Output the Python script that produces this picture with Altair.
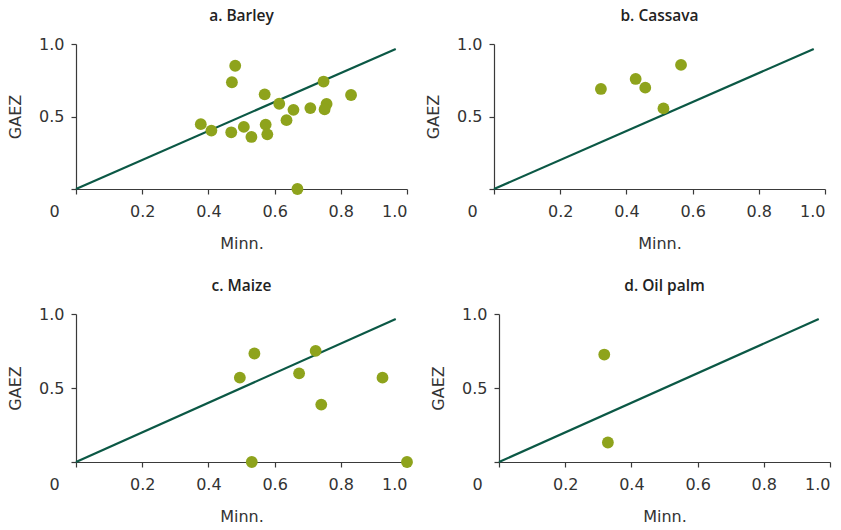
import altair as alt
import pandas as pd

# Minnesota-derived vs GAEZ suitability scores, per crop
barley_minn = [0.377, 0.409, 0.481, 0.471, 0.469, 0.507, 0.530, 0.570, 0.573, 0.578,
               0.614, 0.636, 0.657, 0.669, 0.708, 0.748, 0.757, 0.751, 0.831]
barley_gaez = [0.447, 0.403, 0.850, 0.736, 0.391, 0.428, 0.359, 0.653, 0.444, 0.377,
               0.588, 0.475, 0.546, 0.0, 0.558, 0.741, 0.586, 0.549, 0.648]

cassava_minn = [0.323, 0.428, 0.457, 0.512, 0.565]
cassava_gaez = [0.690, 0.759, 0.699, 0.556, 0.856]

maize_minn = [0.495, 0.539, 0.531, 0.674, 0.724, 0.741, 0.926, 1.0]
maize_gaez = [0.570, 0.733, 0.0, 0.599, 0.751, 0.388, 0.570, 0.0]

oilpalm_minn = [0.318, 0.329]
oilpalm_gaez = [0.726, 0.132]

# 45-degree reference line end points
line_x = [0.0, 0.966]
line_y = [0.0, 0.966]

x_ticks = [0, 0.2, 0.4, 0.6, 0.8, 1.0]
y_ticks = [0, 0.5, 1.0]

LABEL_FONT = "DejaVu Sans"
TITLE_FONT = "Open Sans"
POINT_COLOR = "#8ea31c"
LINE_COLOR = "#0b5845"
AXIS_COLOR = "#3a3a3a"


def panel(title, xs, ys, height):
    pts = pd.DataFrame({"Minn": xs, "GAEZ": ys})
    ref = pd.DataFrame({"Minn": line_x, "GAEZ": line_y})

    x_enc = alt.X(
        "Minn:Q",
        title="Minn.",
        scale=alt.Scale(domain=[0, 1], nice=False, zero=True),
        axis=alt.Axis(
            values=x_ticks,
            labelExpr="datum.value == 0 ? '0' : format(datum.value, '.1f')",
            labelOffset={"condition": {"test": "datum.value == 0", "value": -27}, "value": 0},
            grid=False,
            tickSize=5,
            labelPadding=9,
            titlePadding=16,
        ),
    )
    y_enc = alt.Y(
        "GAEZ:Q",
        title="GAEZ",
        scale=alt.Scale(domain=[0, 1], nice=False, zero=True),
        axis=alt.Axis(
            values=y_ticks,
            labelExpr="datum.value == 0 ? '' : format(datum.value, '.1f')",
            grid=False,
            tickSize=5,
            labelPadding=7,
            titlePadding=15,
        ),
    )

    line = alt.Chart(ref).mark_line(color=LINE_COLOR, strokeWidth=2.2, clip=False).encode(
        x=x_enc, y=y_enc
    )
    dots = alt.Chart(pts).mark_circle(
        color=POINT_COLOR, size=140, opacity=1, clip=False
    ).encode(x="Minn:Q", y="GAEZ:Q")

    return alt.layer(line, dots).properties(
        width=331,
        height=height,
        title=alt.TitleParams(title, fontSize=15.5, fontWeight=600, font=TITLE_FONT,
                              color="#222222", offset=12),
    )


top = alt.hconcat(
    panel("a. Barley", barley_minn, barley_gaez, 145),
    panel("b. Cassava", cassava_minn, cassava_gaez, 145),
    spacing=17,
)
bottom = alt.hconcat(
    panel("c. Maize", maize_minn, maize_gaez, 148),
    panel("d. Oil palm", oilpalm_minn, oilpalm_gaez, 148),
    spacing=17,
)

chart = (
    alt.vconcat(top, bottom, spacing=27)
    .properties(padding={"left": 7, "top": 8, "right": 5, "bottom": 5},
                background="white")
    .configure_view(stroke=None)
    .configure_axis(
        domainColor=AXIS_COLOR,
        tickColor=AXIS_COLOR,
        domainWidth=1.2,
        tickWidth=1.2,
        labelFont=LABEL_FONT,
        titleFont=LABEL_FONT,
        labelFontSize=16,
        titleFontSize=16,
        labelColor="#333333",
        titleColor="#333333",
        titleFontWeight="normal",
    )
)

chart.save("out.html", embed_options={"renderer": "svg", "actions": False})
